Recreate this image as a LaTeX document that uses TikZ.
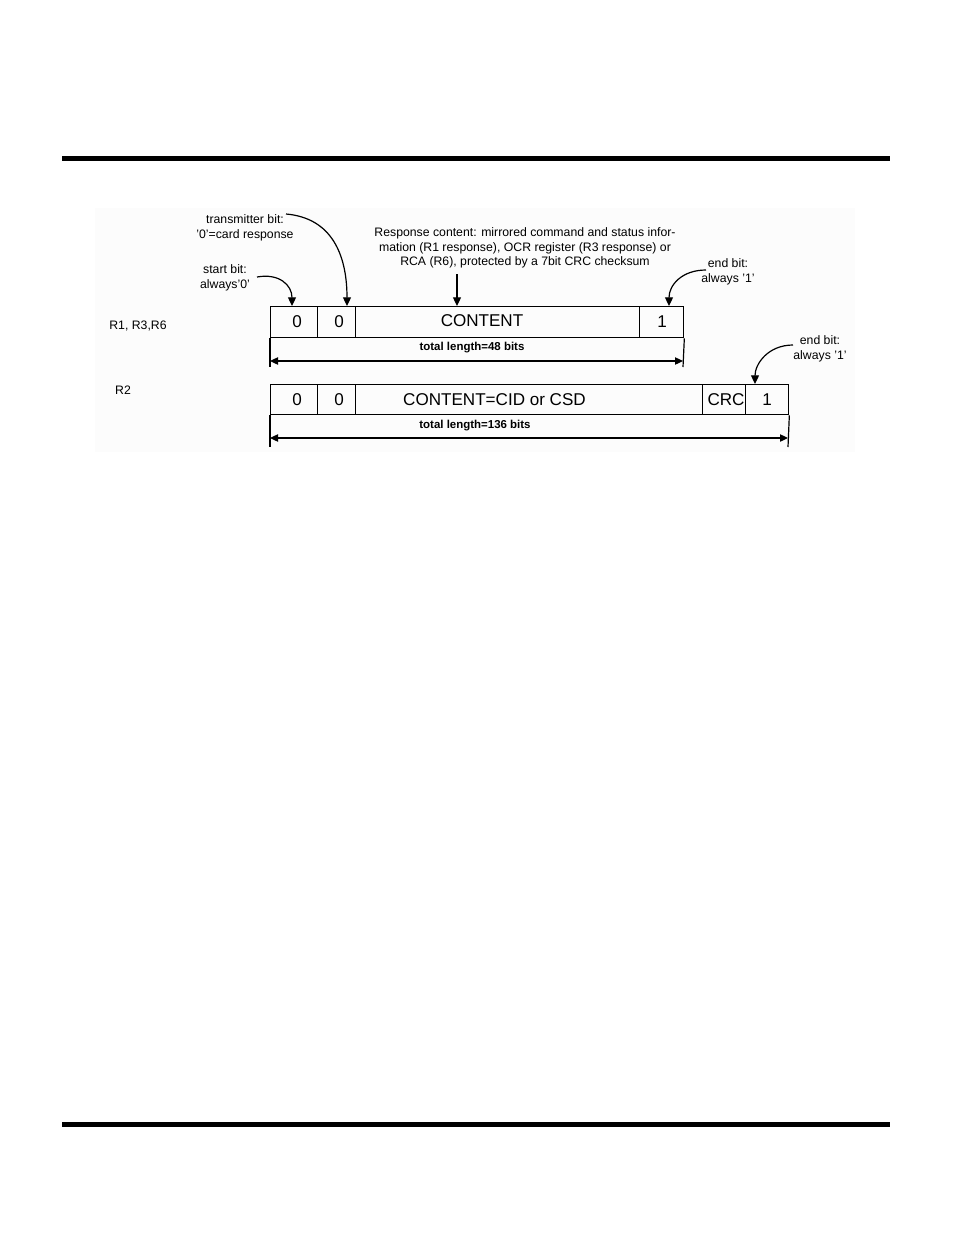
\documentclass[tikz,border=0pt]{standalone}
\usepackage{fontspec}
\setmainfont{Liberation Sans}
\usetikzlibrary{arrows.meta}
\tikzset{
  cell/.style={draw, line width=1pt, inner sep=0pt, anchor=north west},
  small/.style={font=\fontsize{9.2}{11}\selectfont, align=center, inner sep=0pt},
  big/.style={font=\fontsize{12.8}{14}\selectfont, inner sep=0pt},
  dimtext/.style={font=\bfseries\fontsize{8.6}{10}\selectfont, inner sep=0pt},
  pointer/.style={line width=0.9pt, -{Triangle[length=6.5pt,width=6pt]}},
  dimline/.style={line width=0.9pt, {Triangle[length=6pt,width=5.5pt]}-{Triangle[length=6pt,width=5.5pt]}},
  ext/.style={line width=0.9pt},
  rule/.style={line width=3.75pt}
}
\begin{document}
\begin{tikzpicture}[x=0.75pt,y=-0.75pt]
\useasboundingbox (0,0) rectangle (954,1235);
% page rules
\coordinate (tl) at (62,158.5); \coordinate (tr) at (890,158.5);
\coordinate (bl) at (62,1124.8); \coordinate (br) at (890,1124.8);
\draw[rule] (tl) -- (tr);
\draw[rule] (bl) -- (br);
% faint scan background
\fill[black!1] (95,208) rectangle (855,452);

% ---- row 1 (R1, R3, R6) ----
\node[cell, minimum width=35.25pt, minimum height=23.25pt] (a1) at (270,306) {};
\node[cell, minimum width=28.5pt,  minimum height=23.25pt] (a2) at (317,306) {};
\node[cell, minimum width=213pt,   minimum height=23.25pt] (a3) at (355,306) {};
\node[cell, minimum width=33pt,    minimum height=23.25pt] (a4) at (639,306) {};
\node[big] (a1t) at (297,322) {0};
\node[big] (a2t) at (339,322) {0};
\node[big] (a3t) at (482,320.5) {CONTENT};
\node[big] (a4t) at (662,322) {1};
\node[small] (r1) at (138,326) {R1, R3,R6};

% dimension row 1
\coordinate (a_l) at (270,367); \coordinate (a_r) at (683,367);
\draw[ext] (a1.south west) -- (a_l);
\draw[ext] (a4.south east) -- (a_r);
\coordinate (ad_l) at (270,361); \coordinate (ad_r) at (683,361);
\draw[dimline] (ad_l) -- (ad_r);
\node[dimtext] (a_len) at (472,348) {total length=48 bits};

% ---- row 2 (R2) ----
\node[cell, minimum width=35.25pt, minimum height=22.5pt] (b1) at (270,384) {};
\node[cell, minimum width=28.5pt,  minimum height=22.5pt] (b2) at (317,384) {};
\node[cell, minimum width=260.25pt,minimum height=22.5pt] (b3) at (355,384) {};
\node[cell, minimum width=32.25pt, minimum height=22.5pt] (b4) at (702,384) {};
\node[cell, minimum width=32.25pt, minimum height=22.5pt] (b5) at (745,384) {};
\node[big] (b1t) at (297,400) {0};
\node[big] (b2t) at (339,400) {0};
\node[big] (b3t) at (494.5,400) {CONTENT=CID or CSD};
\node[big] (b4t) at (726,400) {CRC};
\node[big] (b5t) at (767,400) {1};
\node[small] (r2) at (123,390) {R2};

% dimension row 2
\coordinate (b_l) at (270,447); \coordinate (b_r) at (788,447);
\draw[ext] (b1.south west) -- (b_l);
\draw[ext] (b5.south east) -- (b_r);
\coordinate (bd_l) at (270,438); \coordinate (bd_r) at (788,438);
\draw[dimline] (bd_l) -- (bd_r);
\node[dimtext] (b_len) at (475,426) {total length=136 bits};

% ---- annotations ----
\node[small] (n_trans) at (245,228) {transmitter bit:\\'0'=card response};
\node[small] (n_start) at (225,278) {start bit:\\always'0'};
\node[small] (n_resp) at (525,248) {Response content: mirrored command and status infor-\\mation (R1 response), OCR register (R3 response) or\\RCA (R6), protected by a 7bit CRC checksum};
\node[small] (n_end1) at (728,272) {end bit:\\always '1'};
\node[small] (n_end2) at (820,349) {end bit:\\always '1'};

\coordinate (s_from) at (257,277);
\coordinate (tr_from) at (286,214);
\coordinate (rc_from) at (457,274);
\coordinate (e1_from) at (706,270);
\coordinate (e2_from) at (793,345);
\coordinate (s_to) at (292,306);
\coordinate (tr_to) at (347,306);
\coordinate (rc_to) at (457,306);
\coordinate (e1_to) at (669,306);
\coordinate (e2_to) at (755,384);

\draw[pointer] (s_from) .. controls (279,273) and (292,285) .. (s_to);
\draw[pointer] (tr_from) .. controls (332,218) and (347,255) .. (tr_to);
\draw[pointer] (rc_from) -- (rc_to);
\draw[pointer] (e1_from) .. controls (682,270) and (669,285) .. (e1_to);
\draw[pointer] (e2_from) .. controls (768,345) and (755,364) .. (e2_to);
\end{tikzpicture}
\end{document}
